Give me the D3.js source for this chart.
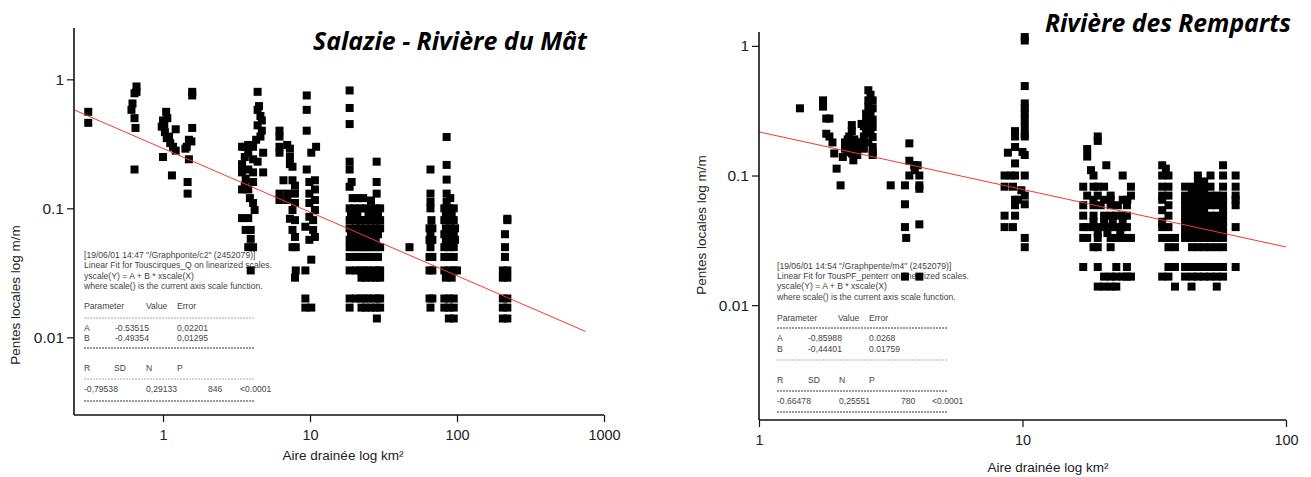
<!DOCTYPE html>
<html><head><meta charset="utf-8">
<script src="https://cdn.jsdelivr.net/npm/d3@7"></script>
<style>body{margin:0;background:#fff}svg{display:block}</style>
</head><body><svg id="c" width="1311" height="477"></svg>
<script>
// ---------------- DATA ----------------
const leftTitle = "Salazie - Rivière du Mât";
const rightTitle = "Rivière des Remparts";
const xTitle = "Aire drainée log km²";
const yTitle = "Pentes locales log m/m";

const leftXTicks = [1, 10, 100, 1000];
const leftXTickLabels = ["1", "10", "100", "1000"];
const leftYTicks = [0.01, 0.1, 1];
const leftYTickLabels = ["0.01", "0.1", "1"];
const rightXTicks = [1, 10, 100];
const rightXTickLabels = ["1", "10", "100"];
const rightYTicks = [0.01, 0.1, 1];
const rightYTickLabels = ["0.01", "0.1", "1"];

// scattered points [area km², slope m/m]
const leftPoints = [
  [0.31,0.56],[0.31,0.46],
  [0.66,0.88],[0.66,0.80],[0.64,0.78],[0.62,0.65],[0.61,0.58],[0.64,0.50],[0.65,0.42],[0.64,0.20],
  [1.05,0.56],[1.0,0.48],[1.07,0.50],[0.98,0.43],[1.03,0.39],[1.06,0.35],[1.12,0.32],[1.22,0.41],
  [1.17,0.30],[1.22,0.28],[1.0,0.25],[1.15,0.18],[1.02,0.45],[1.1,0.36],
  [1.58,0.80],[1.58,0.75],[1.58,0.42],[1.5,0.34],[1.45,0.30],[1.42,0.29],[1.5,0.24],[1.47,0.16],[1.47,0.13],[1.56,0.33],
  [4.4,0.80],[4.5,0.62],[4.4,0.58],[4.6,0.52],[4.7,0.48],[4.4,0.44],[4.7,0.40],[4.6,0.36],[4.3,0.34],[4.1,0.30],
  [3.8,0.31],[3.6,0.30],[3.45,0.30],[3.8,0.27],[4.8,0.27],[3.6,0.25],[3.45,0.22],[4.1,0.24],[4.4,0.23],[3.45,0.21],
  [3.8,0.20],[4.1,0.19],[3.45,0.19],[3.65,0.17],[4.8,0.19],[4.1,0.16],[3.6,0.15],[3.8,0.14],[3.45,0.14],[3.9,0.12],
  [4.1,0.11],[4.2,0.097],[3.45,0.084],[3.8,0.084],[3.65,0.068],[3.95,0.068],[3.95,0.058],[4.1,0.05],[3.8,0.05],[3.95,0.033],
  [6.2,0.40],[6.2,0.36],[6.2,0.30],[7.0,0.31],[7.3,0.29],[6.2,0.27],[7.3,0.25],[7.3,0.22],[7.6,0.21],[6.6,0.165],
  [7.6,0.165],[7.9,0.15],[6.2,0.13],[7.0,0.13],[7.9,0.13],[6.2,0.116],[7.0,0.116],[7.9,0.11],[7.6,0.097],[7.3,0.083],
  [7.9,0.081],[7.6,0.068],[7.9,0.06],[7.6,0.05],[8.0,0.05],[8.0,0.033],[9.3,0.033],[7.9,0.029],
  [9.5,0.75],[9.5,0.58],[9.5,0.40],[11,0.30],[10.2,0.27],[9.5,0.20],[10.8,0.165],[9.9,0.16],[10.8,0.14],[9.9,0.13],
  [10.8,0.116],[9.9,0.11],[10.8,0.097],[9.9,0.086],[10.5,0.081],[9.3,0.072],[10.5,0.068],[10.8,0.06],[9.9,0.057],
  [10.2,0.04],[9.3,0.02],[10.2,0.017],[9.3,0.017],
  [18.6,0.82],[18.6,0.60],[18.6,0.45],[18.6,0.23],[18.6,0.20],[19.2,0.16],[18.6,0.147],[28.4,0.23],[28.4,0.16],[28.4,0.13],
  [19.5,0.12],[21,0.12],[23,0.12],[26,0.115],
  [47.5,0.05],
  [66,0.2],[66,0.13],[66,0.112],[85,0.357],[85,0.217],[85,0.167],[85,0.13],[90,0.12],[85,0.112],
  [220,0.083]
];
// horizontal bands of overlapping points: [slope, [areas...]]
const leftBands = [
  [0.100,[18.6,20,22,24,26,28,30, 66, 82,88,95]],
  [0.090,[19,21,25,27,29, 84,92]],
  [0.081,[18.6,20.5,22,23.5,25,27,29,30, 67, 82,88,95, 220]],
  [0.070,[18.6,20.5,22,24,26,28,30, 65,68, 84,90,97]],
  [0.063,[19,21,23,25,27,29, 66, 82,88,95, 212]],
  [0.057,[18.6,20.5,22,24,26,28, 65,68, 84,90,97]],
  [0.050,[18.6,20,21.5,23,24.5,26,28,30, 66, 82,88,95, 212]],
  [0.042,[18.6,20.5,22,23.5,25,27,29, 65,68, 82,88,95, 212]],
  [0.033,[18.6,20.5,22,23.5,25,27,29,30, 65,68, 82,88,95,100, 205,220]],
  [0.029,[22.4,24,26,28,30, 84,92, 205,220]],
  [0.020,[18.6,20.5,22,23.5,25,27,29,30, 65,68, 82,88,95, 205,220]],
  [0.017,[18.6,22.4,24,26,28,30, 66, 82,88,95, 205,220]],
  [0.014,[28.5, 88,95, 205,220]]
];
const leftFit = [[0.248,0.58],[750,0.0111]];

const rightPoints = [
  [1.43,0.33],
  [1.75,0.38],[1.75,0.34],[1.80,0.275],[1.85,0.275],[1.80,0.21],[1.85,0.20],[1.90,0.18],[1.93,0.148],[1.97,0.113],[2.04,0.084],[2.08,0.139],
  [2.12,0.18],[2.17,0.19],[2.2,0.2],[2.25,0.245],[2.25,0.22],[2.3,0.19],[2.2,0.166],[2.12,0.161],[2.17,0.152],[2.25,0.148],
  [2.3,0.165],[2.36,0.18],[2.36,0.144],[2.28,0.131],[2.4,0.166],[2.45,0.18],[2.5,0.2],[2.5,0.161],
  [2.6,0.455],[2.65,0.42],[2.6,0.38],[2.7,0.38],[2.6,0.34],[2.7,0.33],[2.55,0.30],[2.65,0.30],[2.7,0.27],[2.55,0.27],
  [2.6,0.245],[2.7,0.237],[2.55,0.223],[2.65,0.211],[2.5,0.24],[2.45,0.25],[2.7,0.198],[2.6,0.18],[2.7,0.166],[2.7,0.152],[2.7,0.144],
  [3.16,0.084],[3.58,0.084],[3.58,0.06],[3.58,0.04],[3.62,0.033],[3.58,0.0166],[3.72,0.177],[3.72,0.13],[3.72,0.1],
  [3.88,0.12],[4.0,0.12],[4.06,0.1],[4.06,0.084],[4.06,0.079],[4.06,0.042],[4.06,0.0166],[3.9,0.11],
  [10.2,1.17],[10.2,1.1],[10.2,0.49],[10.2,0.36],[10.2,0.33],[10.2,0.30],[10.2,0.27],[10.2,0.24],[10.2,0.21],[10.2,0.2],
  [9.37,0.22],[9.37,0.2],[8.8,0.15],[9.37,0.166],[10.2,0.144],[10,0.152],[9.37,0.124],[8.55,0.1],[9.03,0.1],[9.37,0.1],
  [10.2,0.1],[8.55,0.082],[9.2,0.082],[9.9,0.077],[10.2,0.07],[9.6,0.065],[10.2,0.06],[9.37,0.059],[8.55,0.049],[9.37,0.049],
  [8.55,0.04],[9.2,0.04],[10.2,0.033],[10.2,0.028],[9.37,0.065],
  [19.3,0.2],[19.3,0.185],[17.6,0.16],[17.6,0.14],[20.8,0.12],[18.2,0.11],[18.6,0.1],[24,0.1],
  [33.9,0.12],[35,0.113],[33.9,0.1],[35.8,0.1],[57.7,0.12],[57.7,0.1],[46.3,0.1],[51.7,0.1],
  [64.4,0.1],[64.4,0.082],[64.4,0.07],[64.4,0.065],[64.4,0.059],[64.4,0.04],[64.4,0.0197]
];
const rightBands = [
  [0.090,[46.3,48.9]],
  [0.082,[17,18.6,19.3,20.4,25.8, 33.9,35.8, 41.4,44,46.3,48.9,51.7,57.7]],
  [0.077,[44,46.3,48.9]],
  [0.070,[17.6,19.3,21.6,25.8, 33.9,35.8, 41.4,43.8,46.3,48.9,51.7,54.6,57.7]],
  [0.065,[18.6,20.4,21.6,24,25, 33.9, 41.4,43.8,46.3,48.9,51.7,54.6,57.7]],
  [0.059,[17,18.6,19.8,21.6,23,24.9, 35.8, 41.4,43.8,46.3,48.9,51.7,54.6,57.7]],
  [0.054,[33.9, 41.4,43.8,46.3,48.9,57.7]],
  [0.049,[17,18.6,20.4,21.6,22.7,24,24.9, 35.8, 41.4,43.8,46.3,48.9,51.7,54.6,57.7]],
  [0.044,[18.6,20.4,22,24, 33.9, 41.4,43.8,46.3,48.9,51.7,54.6,57.7]],
  [0.040,[17,17.6,18.6,19.3,20.4,21.6,22.7,24,24.9, 33.9,35.8, 41.4,43.8,46.3,48.9,51.7,54.6,57.7]],
  [0.036,[19.3,21,23.5, 41.4,43.8,46.3,48.9,51.7,54.6,57.7]],
  [0.033,[17,17.6,19.3,21.6,22.7,24,24.9,25.8, 33.9,35.8,37.9, 41.4,43.8,46.3,48.9,51.7,54.6,57.7]],
  [0.028,[18.6,19.3,21.6, 35.8,37.9, 44,46.3,48.9,51.7,54.6,57.7]],
  [0.0197,[17,19.3,22.7,24.9, 35.8,37.9, 41.4,44,46.3,48.9,51.7,54.6,57.7]],
  [0.0166,[20.4,21.6,22.7,24,24.9,25.8, 33.9,35.8, 41.4,44,46.3,48.9,51.7,54.6,57.7]],
  [0.0139,[19.3,20.4,21.6,22.7, 37.9, 43.8,54.6]]
];
const rightFit = [[1,0.217],[100,0.0281]];

const leftStatsHeader = ["[19/06/01 14:47 \"/Graphponte/c2\" (2452079)]",
  "Linear Fit for Touscirques_Q on linearized scales.",
  "yscale(Y) = A + B * xscale(X)",
  "where scale() is the current axis scale function."];
const leftParams = [["Parameter","Value","Error"],["A","-0.53515","0,02201"],["B","-0.49354","0,01295"]];
const leftSummary = [["R","SD","N","P"],["-0,79538","0,29133","846","<0.0001"]];

const rightStatsHeader = ["[19/06/01 14:54 \"/Graphpente/m4\" (2452079)]",
  "Linear Fit for TousPF_penterr on linearized scales.",
  "yscale(Y) = A + B * xscale(X)",
  "where scale() is the current axis scale function."];
const rightParams = [["Parameter","Value","Error"],["A","-0,85988","0.0268"],["B","-0,44401","0.01759"]];
const rightSummary = [["R","SD","N","P"],["-0.66478","0,25551","780","<0.0001"]];

// ---------------- DRAW ----------------
const svg = d3.select("#c");
const FONT = "'Liberation Sans', Arial, sans-serif";

function panel(cfg) {
  const g = svg.append("g");
  const x = d3.scaleLog().domain(cfg.xDomain).range(cfg.xRange);
  const y = d3.scaleLog().domain(cfg.yDomain).range(cfg.yRange);
  const x0 = cfg.xRange[0], yB = cfg.yRange[0];

  // stats box (behind points)
  const sb = g.append("g").attr("font-family", FONT).attr("font-size", 8.6).attr("fill", "#444");
  const L = cfg.stats;
  L.header.forEach((t, i) => sb.append("text").attr("x", L.x0).attr("y", L.headerY[i]).text(t));
  L.params.forEach((row, i) => row.forEach((t, j) => sb.append("text")
      .attr("x", (i === 0 ? L.pHeadCols : L.pCols)[j]).attr("y", L.paramY[i]).text(t)));
  L.summary.forEach((row, i) => row.forEach((t, j) => sb.append("text")
      .attr("x", (i === 0 ? L.sHeadCols : L.sCols)[j]).attr("y", L.sumY[i]).text(t)));
  L.dashY.forEach((dy, i) => sb.append("line").attr("x1", L.x0).attr("x2", L.x1)
      .attr("y1", dy).attr("y2", dy)
      .attr("stroke", L.dashDark[i] ? "#777" : "#aaa").attr("stroke-width", L.dashDark[i] ? 1.3 : 1)
      .attr("stroke-dasharray", "2,1"));

  // points
  const pts = cfg.points.concat(cfg.bands.flatMap(([yy, xs]) => xs.map(xx => [xx, yy])));
  const S = 8;
  g.append("g").selectAll("rect").data(pts).join("rect")
    .attr("x", d => x(d[0]) - S / 2).attr("y", d => y(d[1]) - S / 2)
    .attr("width", S).attr("height", S).attr("fill", "#000");

  // fit line
  g.append("path").datum(cfg.fit)
    .attr("d", d3.line().x(d => x(d[0])).y(d => y(d[1])))
    .attr("stroke", "#f03a32").attr("stroke-width", 1).attr("fill", "none");

  // axes
  const xMinor = x.ticks().filter(v => !cfg.xTicks.some(t => Math.abs(t - v) / t < 1e-6));
  const yMinor = y.ticks().filter(v => !cfg.yTicks.some(t => Math.abs(t - v) / t < 1e-6));
  const ax = g.append("g").attr("transform", `translate(0,${yB})`);
  ax.call(d3.axisBottom(x).tickValues(xMinor).tickSize(4).tickFormat(""));
  ax.call(d3.axisBottom(x).tickValues(cfg.xTicks).tickSize(7).tickPadding(8)
      .tickFormat((d, i) => cfg.xTickLabels[i]));
  const ay = g.append("g").attr("transform", `translate(${x0},0)`);
  ay.call(d3.axisLeft(y).tickValues(yMinor).tickSize(4).tickFormat(""));
  ay.call(d3.axisLeft(y).tickValues(cfg.yTicks).tickSize(7).tickPadding(3)
      .tickFormat((d, i) => cfg.yTickLabels[i]));
  g.selectAll(".domain").remove();
  g.selectAll(".tick line").attr("stroke", "#111").attr("stroke-width", 1.2);
  g.selectAll(".tick text").attr("font-family", FONT).attr("font-size", 14.5).attr("fill", "#222");
  ay.selectAll(".tick text").attr("font-size", 15.5);
  g.append("line").attr("x1", x0).attr("x2", cfg.xRange[1]).attr("y1", yB).attr("y2", yB)
    .attr("stroke", "#111").attr("stroke-width", 1.6);
  g.append("line").attr("x1", x0).attr("x2", x0).attr("y1", yB).attr("y2", cfg.yRange[1])
    .attr("stroke", "#111").attr("stroke-width", 1.6);

  // titles
  g.append("text").attr("x", cfg.xTitlePos[0]).attr("y", cfg.xTitlePos[1]).attr("text-anchor", "middle")
    .attr("font-family", FONT).attr("font-size", 13.5).attr("fill", "#222").text(xTitle);
  g.append("text").attr("transform", `translate(${cfg.yTitlePos[0]},${cfg.yTitlePos[1]}) rotate(-90)`)
    .attr("text-anchor", "middle").attr("font-family", FONT).attr("font-size", 13.5).attr("fill", "#222").text(yTitle);
  g.append("text").attr("x", cfg.titlePos[0]).attr("y", cfg.titlePos[1])
    .attr("font-family", "'Open Sans', sans-serif").attr("font-weight", "bold").attr("font-style", "italic")
    .attr("font-size", 25).attr("fill", "#000")
    .attr("textLength", cfg.titleLen).attr("lengthAdjust", "spacingAndGlyphs").text(cfg.title);
}

panel({
  xDomain: [0.248, 1000], xRange: [74, 604],
  yDomain: [0.0025, 2.5], yRange: [415, 28],
  xTicks: leftXTicks, xTickLabels: leftXTickLabels, yTicks: leftYTicks, yTickLabels: leftYTickLabels,
  points: leftPoints, bands: leftBands, fit: leftFit,
  xTitlePos: [343, 460], yTitlePos: [20, 295], titlePos: [313, 50], titleLen: 274, title: leftTitle,
  stats: {
    x0: 84, x1: 255, header: leftStatsHeader, headerY: [258, 268, 279, 289],
    params: leftParams, pHeadCols: [84, 146, 177], pCols: [84, 115, 177], paramY: [309, 331, 341],
    summary: leftSummary, sHeadCols: [84, 114, 146, 177], sCols: [84, 146, 208, 240], sumY: [371, 392],
    dashY: [318, 348, 379, 401], dashDark: [false, true, false, true]
  }
});

panel({
  xDomain: [1, 100], xRange: [759, 1286],
  yDomain: [0.0013, 1.28], yRange: [420, 32],
  xTicks: rightXTicks, xTickLabels: rightXTickLabels, yTicks: rightYTicks, yTickLabels: rightYTickLabels,
  points: rightPoints, bands: rightBands, fit: rightFit,
  xTitlePos: [1048, 472], yTitlePos: [706, 225], titlePos: [1045, 32], titleLen: 246, title: rightTitle,
  stats: {
    x0: 777, x1: 947, header: rightStatsHeader, headerY: [269, 279, 289, 300],
    params: rightParams, pHeadCols: [777, 838, 869], pCols: [777, 808, 869], paramY: [321, 341, 352],
    summary: rightSummary, sHeadCols: [777, 808, 839, 869], sCols: [777, 839, 901, 932], sumY: [383, 404],
    dashY: [328, 360, 391, 412], dashDark: [true, false, true, true]
  }
});
</script></body></html>
